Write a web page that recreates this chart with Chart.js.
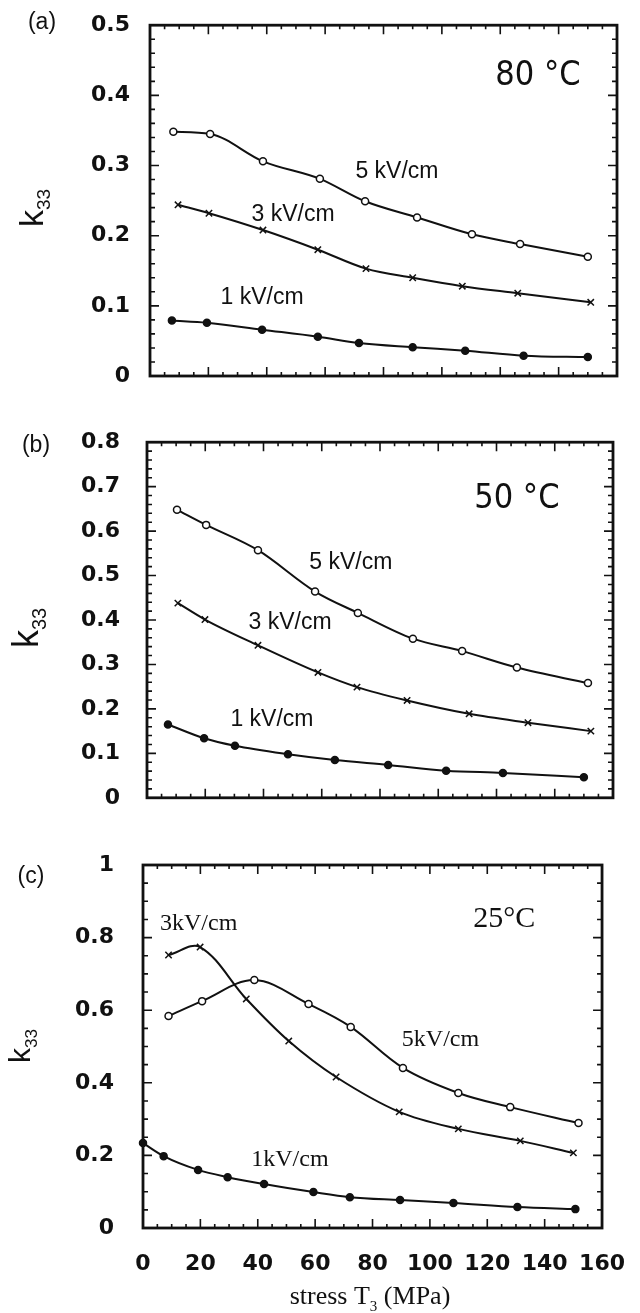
<!DOCTYPE html>
<html>
<head>
<meta charset="utf-8">
<script src="https://cdn.jsdelivr.net/npm/chart.js@4.4.1/dist/chart.umd.min.js"></script>
<style>
  body { margin: 0; background: #fff; }
  canvas { position: absolute; left: 0; }
</style>
</head>
<body>
<canvas id="chartA"></canvas>
<canvas id="chartB"></canvas>
<canvas id="chartC"></canvas>
<script>
// stress T3 (MPa) and k33

// (a) 80 °C
const a_stress_5kV = [8, 20.6, 38.7, 58.2, 73.7, 91.5, 110.3, 126.8, 150];
const a_k33_5kV = [0.348, 0.345, 0.306, 0.281, 0.249, 0.226, 0.202, 0.188, 0.170];
const a_stress_3kV = [9.6, 20.2, 38.7, 57.5, 74, 90, 107, 126, 151];
const a_k33_3kV = [0.244, 0.232, 0.208, 0.180, 0.153, 0.140, 0.128, 0.118, 0.105];
const a_stress_1kV = [7.5, 19.5, 38.4, 57.5, 71.6, 90, 108, 128, 150];
const a_k33_1kV = [0.079, 0.076, 0.066, 0.056, 0.047, 0.041, 0.036, 0.029, 0.027];

// (b) 50 °C
const b_stress_5kV = [10.3, 20.3, 38.1, 57.7, 72.4, 91.3, 108.2, 127, 151.4];
const b_k33_5kV = [0.648, 0.614, 0.557, 0.464, 0.416, 0.358, 0.330, 0.293, 0.258];
const b_stress_3kV = [10.6, 19.9, 38.1, 58.7, 72.1, 89.3, 110.6, 130.8, 152.4];
const b_k33_3kV = [0.438, 0.401, 0.343, 0.282, 0.249, 0.219, 0.189, 0.169, 0.150];
const b_stress_1kV = [7.2, 19.6, 30.2, 48.4, 64.5, 82.8, 102.7, 122.2, 150];
const b_k33_1kV = [0.165, 0.134, 0.117, 0.098, 0.085, 0.074, 0.061, 0.056, 0.046];

// (c) 25 °C
const c_stress_5kV = [8.9, 20.6, 38.8, 57.7, 72.4, 90.6, 109.9, 128, 151.8];
const c_k33_5kV = [0.584, 0.625, 0.683, 0.617, 0.554, 0.441, 0.372, 0.333, 0.289];
const c_stress_3kV = [8.9, 19.9, 36, 50.8, 67.3, 89.3, 109.9, 131.5, 150];
const c_k33_3kV = [0.752, 0.774, 0.631, 0.515, 0.416, 0.320, 0.273, 0.240, 0.207];
const c_stress_1kV = [0, 7.2, 19.2, 29.5, 42.2, 59.4, 72.1, 89.6, 108.2, 130.5, 150.7];
const c_k33_1kV = [0.234, 0.198, 0.160, 0.140, 0.121, 0.099, 0.085, 0.077, 0.069, 0.058, 0.052];

// tick labels
const stressTicks = [0, 20, 40, 60, 80, 100, 120, 140, 160];
const a_yTicks = [0, 0.1, 0.2, 0.3, 0.4, 0.5];
const b_yTicks = [0, 0.1, 0.2, 0.3, 0.4, 0.5, 0.6, 0.7, 0.8];
const c_yTicks = [0, 0.2, 0.4, 0.6, 0.8, 1];

const W = 640;
const tickFont = { family: "'DejaVu Sans', sans-serif", size: 22, weight: 'bold' };
const sans = "'Liberation Sans', Arial, sans-serif";
const narrow = "'Liberation Sans Narrow', 'DejaVu Sans Condensed', sans-serif";
const serif = "'Liberation Serif', 'Times New Roman', serif";

function pts(xs, ys) {
  return xs.map((x, i) => ({ x: x, y: ys[i] }));
}

function series(xs, ys, kind, smooth) {
  const base = {
    data: pts(xs, ys),
    showLine: true,
    borderColor: '#111',
    borderWidth: 2,
    clip: false,
    pointBorderColor: '#111',
    pointBorderWidth: 1.5
  };
  if (smooth === 'monotone') {
    base.cubicInterpolationMode = 'monotone';
  } else {
    base.tension = 0.35;
  }
  if (kind === 'open') {
    base.pointStyle = 'circle';
    base.pointRadius = 3.5;
    base.pointBackgroundColor = '#fff';
  } else if (kind === 'cross') {
    base.pointStyle = 'crossRot';
    base.pointRadius = 4.5;
  } else {
    base.pointStyle = 'circle';
    base.pointRadius = 3.5;
    base.pointBackgroundColor = '#111';
  }
  return base;
}

// frame with inward ticks on all four sides
const framePlugin = {
  id: 'frame',
  afterDraw(chart, args, opts) {
    const ctx = chart.ctx;
    const a = chart.chartArea;
    const xs = chart.scales.x, ys = chart.scales.y;
    ctx.save();
    ctx.strokeStyle = '#111';
    ctx.lineWidth = 1.6;
    const n = Math.round((ys.max - ys.min) / opts.yMinor);
    for (let i = 0; i <= n; i++) {
      const v = ys.min + i * opts.yMinor;
      const r = v / opts.yMajor;
      const len = Math.abs(r - Math.round(r)) < 1e-6 ? 9 : 5;
      const py = ys.getPixelForValue(v);
      ctx.beginPath();
      ctx.moveTo(a.left, py); ctx.lineTo(a.left + len, py);
      ctx.moveTo(a.right, py); ctx.lineTo(a.right - len, py);
      ctx.stroke();
    }
    const m = Math.round((xs.max - xs.min) / opts.xMinor);
    for (let i = 0; i <= m; i++) {
      const v = xs.min + i * opts.xMinor;
      const r = v / opts.xMajor;
      const len = Math.abs(r - Math.round(r)) < 1e-6 ? 9 : 4;
      const px = xs.getPixelForValue(v);
      ctx.beginPath();
      ctx.moveTo(px, a.bottom); ctx.lineTo(px, a.bottom - len);
      ctx.moveTo(px, a.top); ctx.lineTo(px, a.top + len);
      ctx.stroke();
    }
    ctx.lineWidth = 2.8;
    ctx.strokeRect(a.left, a.top, a.right - a.left, a.bottom - a.top);
    ctx.restore();
  }
};

// text in the plot (data coords) and around it (canvas coords)
const notesPlugin = {
  id: 'notes',
  afterDraw(chart, args, opts) {
    const ctx = chart.ctx;
    const xs = chart.scales.x, ys = chart.scales.y;
    ctx.save();
    ctx.fillStyle = '#111';
    ctx.textAlign = 'center';
    ctx.textBaseline = 'middle';
    (opts.notes || []).forEach(n => {
      ctx.font = n.font;
      ctx.fillText(n.text, xs.getPixelForValue(n.x), ys.getPixelForValue(n.y));
    });
    // panel tag
    ctx.font = '23px ' + sans;
    ctx.fillText(opts.tag.text, opts.tag.x, opts.tag.y);
    // k33, rotated
    const yl = opts.ylab;
    ctx.translate(yl.x, yl.y);
    ctx.rotate(-Math.PI / 2);
    ctx.textAlign = 'left';
    ctx.textBaseline = 'alphabetic';
    ctx.font = yl.size + 'px ' + sans;
    const kw = ctx.measureText('k').width;
    ctx.font = Math.round(yl.size * 0.55) + 'px ' + sans;
    const sw = ctx.measureText('33').width;
    const x0 = -(kw + sw) / 2;
    ctx.font = yl.size + 'px ' + sans;
    ctx.fillText('k', x0, 0);
    ctx.font = Math.round(yl.size * 0.55) + 'px ' + sans;
    ctx.fillText('33', x0 + kw, yl.size * 0.22);
    ctx.restore();
    // x title with subscript
    if (opts.xtitle) {
      const t = opts.xtitle;
      ctx.save();
      ctx.fillStyle = '#111';
      ctx.textBaseline = 'alphabetic';
      ctx.textAlign = 'left';
      const big = '26px ' + serif, small = '15px ' + serif;
      ctx.font = big;
      const w1 = ctx.measureText('stress T').width;
      const w3 = ctx.measureText(' (MPa)').width;
      ctx.font = small;
      const w2 = ctx.measureText('3').width;
      let x = t.x - (w1 + w2 + w3) / 2;
      ctx.font = big;
      ctx.fillText('stress T', x, t.y);
      ctx.font = small;
      ctx.fillText('3', x + w1, t.y + 7);
      ctx.font = big;
      ctx.fillText(' (MPa)', x + w1 + w2, t.y);
      ctx.restore();
    }
  }
};

function makePanel(p) {
  const el = document.getElementById(p.id);
  el.width = W;
  el.height = p.height;
  el.style.top = p.top + 'px';
  el.style.width = W + 'px';
  el.style.height = p.height + 'px';
  return new Chart(el, {
    type: 'scatter',
    data: { datasets: p.datasets },
    options: {
      responsive: false,
      animation: false,
      events: [],
      layout: { padding: { top: p.frame.top, right: W - p.frame.right, left: 0, bottom: 0 } },
      plugins: {
        legend: { display: false },
        tooltip: { enabled: false },
        frame: { yMajor: p.yMajor, yMinor: p.yMinor, xMajor: 20, xMinor: 5 },
        notes: { notes: p.notes, tag: p.tag, ylab: p.ylab, xtitle: p.xtitle }
      },
      scales: {
        x: {
          type: 'linear',
          min: 0, max: 160,
          grid: { display: false },
          border: { display: false },
          afterBuildTicks: s => { s.ticks = stressTicks.map(v => ({ value: v })); },
          afterFit: s => { s.height = p.height - p.frame.bottom; },
          ticks: { display: p.xLabels, font: tickFont, color: '#111', padding: 15, maxRotation: 0 }
        },
        y: {
          type: 'linear',
          min: 0, max: p.yMax,
          grid: { display: false },
          border: { display: false },
          afterBuildTicks: s => { s.ticks = p.yTicks.map(v => ({ value: v })); },
          afterFit: s => { s.width = p.frame.left; },
          ticks: {
            font: tickFont, color: '#111', padding: p.yPad,
            callback: v => String(+v.toFixed(2))
          }
        }
      }
    },
    plugins: [framePlugin, notesPlugin]
  });
}

const kvFont = '23px ' + sans;
const kvSerif = '24px ' + serif;

makePanel({
  id: 'chartA', top: 0, height: 410,
  frame: { left: 150, right: 617, top: 20, bottom: 376 },
  yMax: 0.5, yTicks: a_yTicks, yMajor: 0.1, yMinor: 0.02, yPad: 12, xLabels: false,
  datasets: [
    series(a_stress_5kV, a_k33_5kV, 'open', 'monotone'),
    series(a_stress_3kV, a_k33_3kV, 'cross', 'monotone'),
    series(a_stress_1kV, a_k33_1kV, 'filled', 'monotone')
  ],
  notes: [
    { text: '80 °C', x: 132.9, y: 0.427, font: '34px ' + narrow },
    { text: '5 kV/cm', x: 84.6, y: 0.291, font: kvFont },
    { text: '3 kV/cm', x: 49.0, y: 0.230, font: kvFont },
    { text: '1 kV/cm', x: 38.4, y: 0.111, font: kvFont }
  ],
  tag: { text: '(a)', x: 42, y: 23 },
  ylab: { x: 43, y: 208, size: 34 }
});

makePanel({
  id: 'chartB', top: 410, height: 420,
  frame: { left: 147, right: 613, top: 28, bottom: 397 },
  yMax: 0.8, yTicks: b_yTicks, yMajor: 0.1, yMinor: 0.02, yPad: 19, xLabels: false,
  datasets: [
    series(b_stress_5kV, b_k33_5kV, 'open', 'monotone'),
    series(b_stress_3kV, b_k33_3kV, 'cross', 'monotone'),
    series(b_stress_1kV, b_k33_1kV, 'filled', 'monotone')
  ],
  notes: [
    { text: '50 °C', x: 127.0, y: 0.672, font: '34px ' + narrow },
    { text: '5 kV/cm', x: 70.0, y: 0.529, font: kvFont },
    { text: '3 kV/cm', x: 49.1, y: 0.395, font: kvFont },
    { text: '1 kV/cm', x: 42.9, y: 0.176, font: kvFont }
  ],
  tag: { text: '(b)', x: 36, y: 36 },
  ylab: { x: 38, y: 218, size: 36 }
});

makePanel({
  id: 'chartC', top: 830, height: 483,
  frame: { left: 143, right: 612, top: 35, bottom: 398 },
  yMax: 1, yTicks: c_yTicks, yMajor: 0.2, yMinor: 0.05, yPad: 21, xLabels: true,
  datasets: [
    series(c_stress_5kV, c_k33_5kV, 'open', 'spline'),
    series(c_stress_3kV, c_k33_3kV, 'cross', 'spline'),
    series(c_stress_1kV, c_k33_1kV, 'filled', 'monotone')
  ],
  notes: [
    { text: '25°C', x: 125.9, y: 0.851, font: '30px ' + serif },
    { text: '3kV/cm', x: 19.4, y: 0.837, font: kvSerif },
    { text: '5kV/cm', x: 103.7, y: 0.518, font: kvSerif },
    { text: '1kV/cm', x: 51.2, y: 0.187, font: kvSerif }
  ],
  tag: { text: '(c)', x: 31, y: 47 },
  ylab: { x: 30, y: 216, size: 30 },
  xtitle: { x: 370, y: 474 }
});
</script>
</body>
</html>
